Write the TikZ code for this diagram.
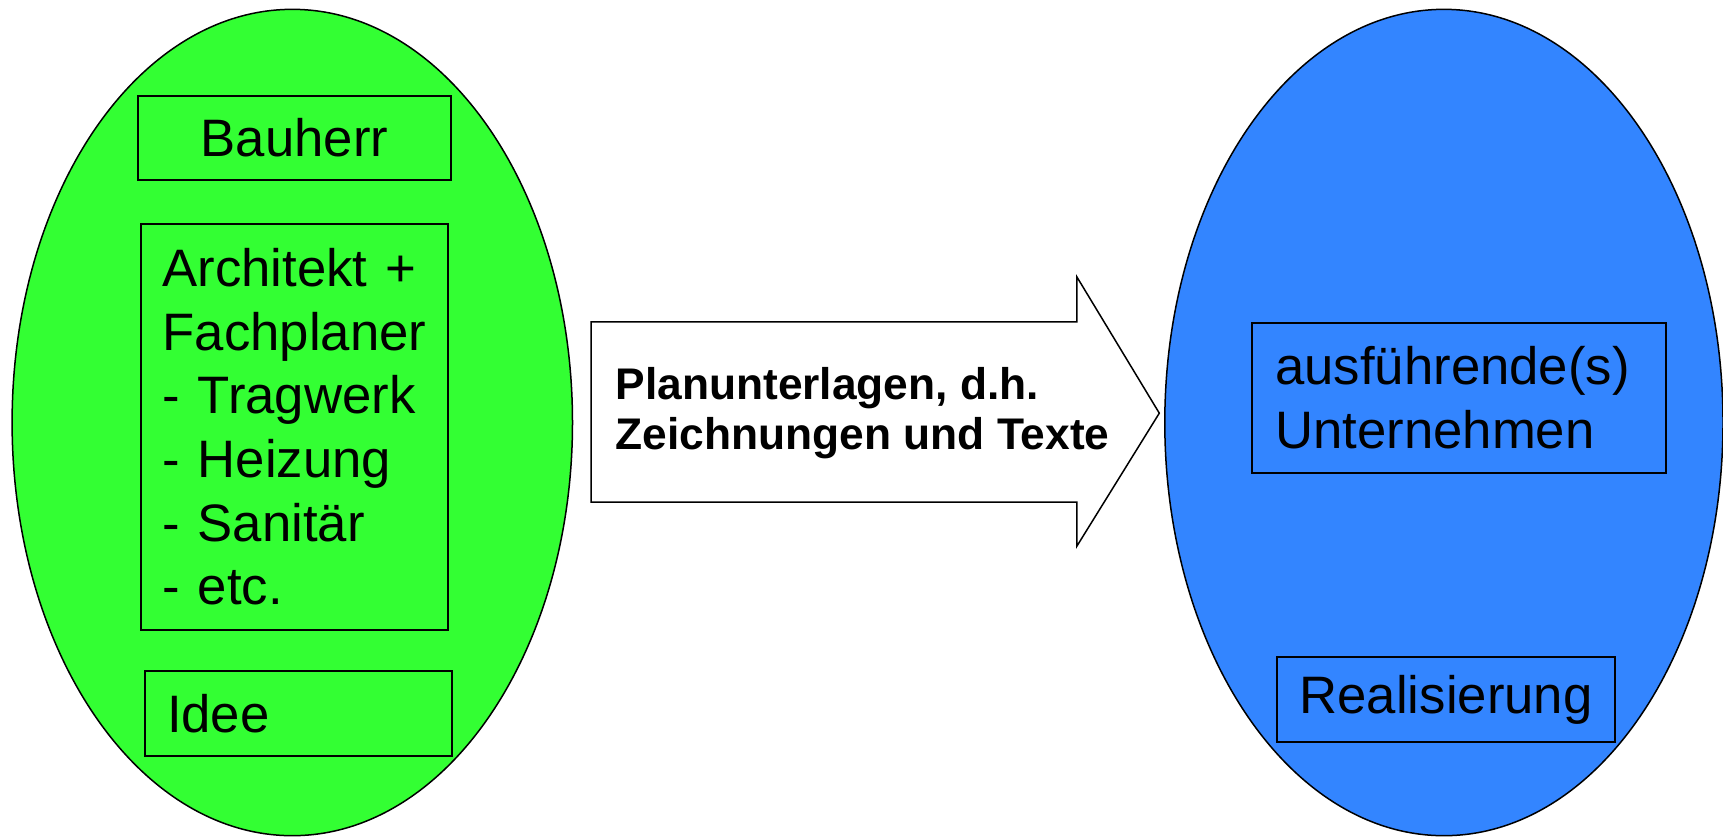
\documentclass[tikz,border=0pt]{standalone}
\usepackage{fontspec}
\setmainfont{Liberation Sans}
\definecolor{lgreen}{RGB}{51,255,51}
\definecolor{rblue}{RGB}{51,133,255}
\tikzset{
  blob/.style={draw=black, line width=1.5pt},
  boxnode/.style={draw=black, line width=2pt, inner sep=0pt, font=\fontsize{52.7}{63.7}\selectfont},
  lbox/.style={boxnode, align=left, inner xsep=22pt},
  arrowshape/.style={draw=black, fill=white, line width=1.5pt, line join=miter},
  arrowtext/.style={inner sep=0pt, anchor=west, align=left, font=\fontsize{44.3}{50}\selectfont\bfseries}
}
\begin{document}
\begin{tikzpicture}[x=1.098852pt,y=-1.098852pt]
\useasboundingbox (0,0) rectangle (1568,762.6);
% ellipses
\draw[blob, fill=lgreen] (266,384.5) ellipse [x radius=255, y radius=376];
\draw[blob, fill=rblue] (1314,384.5) ellipse [x radius=254, y radius=376];
% left boxes
\node[boxnode, minimum width=312pt, minimum height=84.6pt] (bauherr) at (268,125.5) {Bauherr};
\node[lbox, text width=263.7pt, minimum height=405.5pt] (arch) at (268,388.5)
  {Architekt +\\Fachplaner\\- Tragwerk\\- Heizung\\- Sanitär\\- etc.};
\node[lbox, text width=262.6pt, minimum height=84.6pt] (idee) at (271.5,649.5) {Idee};
% arrow
\draw[arrowshape] (538,293) -- (980,293) -- (980,252) -- (1055,376) -- (980,497) -- (980,457) -- (538,457) -- cycle;
\node[arrowtext] (plan) at (560,376.3) {Planunterlagen, d.h.\\Zeichnungen und Texte};
% right boxes
\node[lbox, inner xsep=23pt, text width=368pt, minimum height=150.5pt] (unter) at (1328,362)
  {ausführende(s)\\Unternehmen};
\node[boxnode, minimum width=338.4pt, minimum height=84.6pt] (real) at (1316,636.5) {Realisierung};
\end{tikzpicture}
\end{document}
